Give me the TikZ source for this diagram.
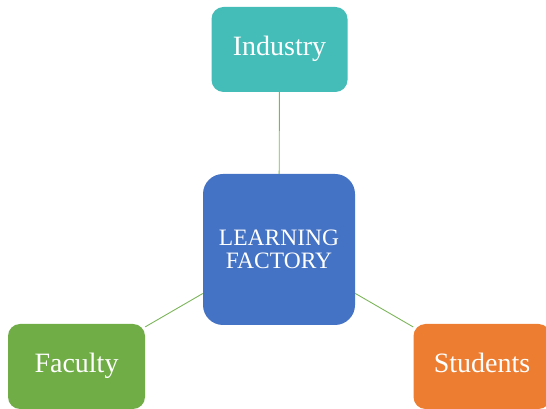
\documentclass[tikz,border=0pt]{standalone}
\usepackage{fontspec}
\setmainfont{Liberation Serif}
\definecolor{industryteal}{HTML}{44BDB8}
\definecolor{hubblue}{HTML}{4472C4}
\definecolor{facultygreen}{HTML}{70AD47}
\definecolor{studentorange}{HTML}{ED7D31}
\definecolor{linkgreen}{HTML}{7DB55A}
\tikzset{%
    box/.style={rectangle, rounded corners=12pt, inner sep=0pt, text=white,
        minimum width=137pt, minimum height=85pt,
        text height=19pt, text depth=6pt,
        font=\fontsize{28}{30}\selectfont},
    link/.style={draw=linkgreen, line width=0.9pt}
}

\begin{document}
\begin{tikzpicture}[x=1pt,y=1pt]
            % page size, clip
            \clip (0,0) rectangle (546,409);
            \useasboundingbox (0,0) rectangle (546,409);

            % boxes
            \node[box, fill=industryteal, minimum width=136pt] (industry) at (279.5,359.5){Industry};
            \node[box, fill=hubblue, rounded corners=20pt, minimum width=152pt,
                minimum height=151pt, align=center, text height=, text depth=,
                font=\fontsize{23.5}{23.5}\selectfont] (hub) at (279,159.5){LEARNING\\FACTORY};
            \node[box, fill=facultygreen] (faculty) at (76.5,42.5){Faculty};
            \node[box, fill=studentorange] (students) at (482,42.5){Students};

            % links
            \draw[link] (hub) -- (industry);
            \draw[link] (hub) -- (faculty);
            \draw[link] (hub) -- (students);
\end{tikzpicture}
\end{document}
